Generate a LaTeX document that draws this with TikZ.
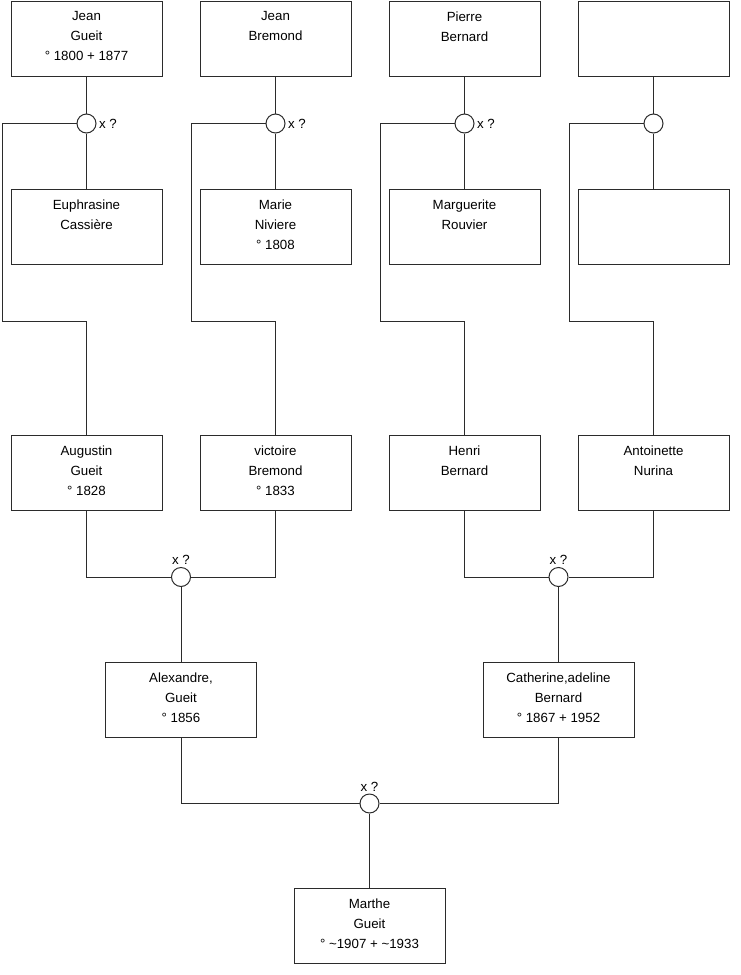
\documentclass[tikz,border=0pt]{standalone}
\usepackage{fontspec}
\setmainfont{Liberation Sans}
\usetikzlibrary{positioning}
\definecolor{treeline}{HTML}{2B2B2B}

\begin{document}
\begin{tikzpicture}[
  x=1pt, y=-1pt, line width=1pt, draw=treeline,
  ptext/.style={anchor=north, align=center, inner sep=0pt, yshift=-10.5pt, font=\fontsize{13.3}{20}\selectfont},
  person/.style={draw=treeline, fill=white, minimum width=151pt, minimum height=75pt, inner sep=0pt,
    label={[ptext, label distance=0pt]north:{#1}}},
  union/.style={draw=treeline, fill=white, circle, minimum size=19pt, inner sep=0pt},
  xq/.style={inner sep=1pt, label distance=1pt, font=\fontsize{13.3}{16}\selectfont}
]
  \useasboundingbox (0,0) rectangle (740,975);

  % grandparents' parents
  \node[person={Jean\\Gueit\\° 1800 + 1877}] (jeanG) at (86.5,38.5) {};
  \node[person={Jean\\Bremond}] (jeanB) at (275.5,38.5) {};
  \node[person={Pierre\\Bernard}] (pierre) at (464.5,38.5) {};
  \node[person={}] (unknownA) at (653.5,38.5) {};

  \node[union, label={[xq]right:x ?}] (u1) at (86.5,123.5) {};
  \node[union, label={[xq]right:x ?}] (u2) at (275.5,123.5) {};
  \node[union, label={[xq]right:x ?}] (u3) at (464.5,123.5) {};
  \node[union] (u4) at (653.5,123.5) {};

  \node[person={Euphrasine\\Cassière}] (euphrasine) at (86.5,227) {};
  \node[person={Marie\\Niviere\\° 1808}] (marie) at (275.5,227) {};
  \node[person={Marguerite\\Rouvier}] (marguerite) at (464.5,227) {};
  \node[person={}] (unknownB) at (653.5,227) {};

  % grandparents
  \node[person={Augustin\\Gueit\\° 1828}] (augustin) at (86.5,472.5) {};
  \node[person={victoire\\Bremond\\° 1833}] (victoire) at (275.5,472.5) {};
  \node[person={Henri\\Bernard}] (henri) at (464.5,472.5) {};
  \node[person={Antoinette\\Nurina}] (antoinette) at (653.5,472.5) {};

  \node[union, label={[xq]above:x ?}] (u5) at (181,577) {};
  \node[union, label={[xq]above:x ?}] (u6) at (558.5,577) {};

  % parents
  \node[person={Alexandre,\\Gueit\\° 1856}] (alexandre) at (181,699.5) {};
  \node[person={Catherine,adeline\\Bernard\\° 1867 + 1952}] (catherine) at (558.5,699.5) {};

  \node[union, label={[xq]above:x ?}] (u7) at (369.5,803.5) {};

  \node[person={Marthe\\Gueit\\° \textasciitilde1907 + \textasciitilde1933}] (marthe) at (369.5,926) {};

  \begin{scope}[on background layer/.try]
  \foreach \fa/\un/\mo/\ch in {jeanG/u1/euphrasine/augustin, jeanB/u2/marie/victoire,
      pierre/u3/marguerite/henri, unknownA/u4/unknownB/antoinette} {
    \draw (\fa.south) -- (\un.north);
    \draw (\un.south) -- (\mo.north);
    \draw (\un.west) -- ++(-74.5,0) -- ++(0,197.5) -| (\ch.north);
  }
  \end{scope}

  \draw (augustin.south) |- (u5.west);
  \draw (victoire.south) |- (u5.east);
  \draw (u5.south) -- (alexandre.north);
  \draw (henri.south) |- (u6.west);
  \draw (antoinette.south) |- (u6.east);
  \draw (u6.south) -- (catherine.north);
  \draw (alexandre.south) |- (u7.west);
  \draw (catherine.south) |- (u7.east);
  \draw (u7.south) -- (marthe.north);
\end{tikzpicture}
\end{document}
